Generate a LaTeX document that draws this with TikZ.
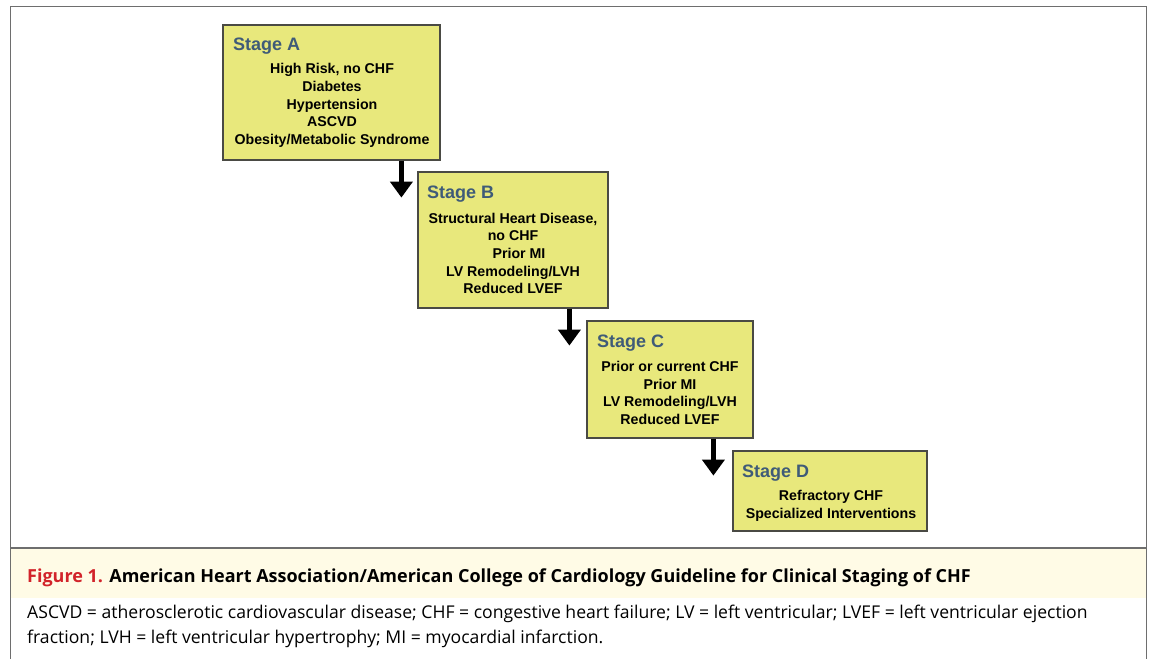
\documentclass[tikz,border=0pt]{standalone}
\usepackage{fontspec}
\setmainfont{Liberation Sans}
\newfontfamily\capfont{Open Sans}
\usetikzlibrary{arrows.meta,calc}
\definecolor{boxfill}{HTML}{E8E87C}
\definecolor{boxline}{HTML}{4A4A44}
\definecolor{stagecol}{HTML}{3F5B78}
\definecolor{capband}{HTML}{FFFBE6}
\definecolor{figred}{HTML}{D2232A}
\definecolor{framecol}{HTML}{6E6E6E}
\tikzset{
  stagebox/.style={draw=boxline,line width=1.2pt,fill=boxfill,inner sep=0pt},
  stagetitle/.style={anchor=base west,inner sep=0pt,text=stagecol,font=\fontsize{18}{21}\selectfont\bfseries},
  stagelist/.style={align=center,inner sep=0pt,font=\fontsize{14.2}{17.7}\selectfont\bfseries},
  flowarrow/.style={line width=5.5pt,-{Triangle[width=22pt,length=16pt]}},
  captext/.style={anchor=base west,inner sep=0pt,font=\capfont\fontsize{17.6}{20}\selectfont},
}
\begin{document}
\begin{tikzpicture}[x=1pt,y=-1pt]
\useasboundingbox (0,0) rectangle (1152,659);
% frame
\fill[capband] (10,548) rectangle (1146,598);
\draw[framecol,line width=1pt] (10,670) -- (10,6) -- (1146,6) -- (1146,670);
\draw[framecol,line width=1.2pt] (10,548) -- (1146,548);
% boxes
\node[stagebox,minimum width=217pt,minimum height=135pt] (A) at (331.5,92.5) {};
\node[stagebox,minimum width=190pt,minimum height=136pt] (B) at (513,240) {};
\node[stagebox,minimum width=166pt,minimum height=117pt] (C) at (670,379.5) {};
\node[stagebox,minimum width=194pt,minimum height=80pt] (D) at (830,491) {};
% titles
\node[stagetitle] (tA) at (233,50.5) {Stage A};
\node[stagetitle] (tB) at (427,198.5) {Stage B};
\node[stagetitle] (tC) at (597,347.5) {Stage C};
\node[stagetitle] (tD) at (742,477.5) {Stage D};
% lists
\node[stagelist] (lA) at (332,105.5) {High Risk, no CHF\\Diabetes\\Hypertension\\ASCVD\\Obesity/Metabolic Syndrome};
\node[stagelist] (lB) at (513,253.5) {Structural Heart Disease,\\no CHF\\\hspace*{12pt}Prior MI\\LV Remodeling/LVH\\Reduced LVEF};
\node[stagelist] (lC) at (670,393) {Prior or current CHF\\Prior MI\\LV Remodeling/LVH\\Reduced LVEF};
\node[stagelist] (lD) at (831,505.5) {Refractory CHF\\Specialized Interventions};
% arrows
\coordinate (a1) at ($(A.south west)+(179,0)$);
\coordinate (a1e) at ($(a1)+(0,37)$);
\coordinate (b1) at ($(B.south west)+(152,0)$);
\coordinate (b1e) at ($(b1)+(0,37)$);
\coordinate (c1) at ($(C.south west)+(127,0)$);
\coordinate (c1e) at ($(c1)+(0,37)$);
\draw[flowarrow] (a1) -- (a1e);
\draw[flowarrow] (b1) -- (b1e);
\draw[flowarrow] (c1) -- (c1e);
% caption
\node[anchor=base west,inner sep=0pt,font=\capfont\fontsize{18}{20}\selectfont\bfseries] (cap) at (27,582) {\textcolor{figred}{Figure 1.} American Heart Association/American College of Cardiology Guideline for Clinical Staging of CHF};
\node[captext] (leg1) at (27,618) {ASCVD = atherosclerotic cardiovascular disease; CHF = congestive heart failure; LV = left ventricular; LVEF = left ventricular ejection};
\node[captext] (leg2) at (27,643) {fraction; LVH = left ventricular hypertrophy; MI = myocardial infarction.};
\end{tikzpicture}
\end{document}
